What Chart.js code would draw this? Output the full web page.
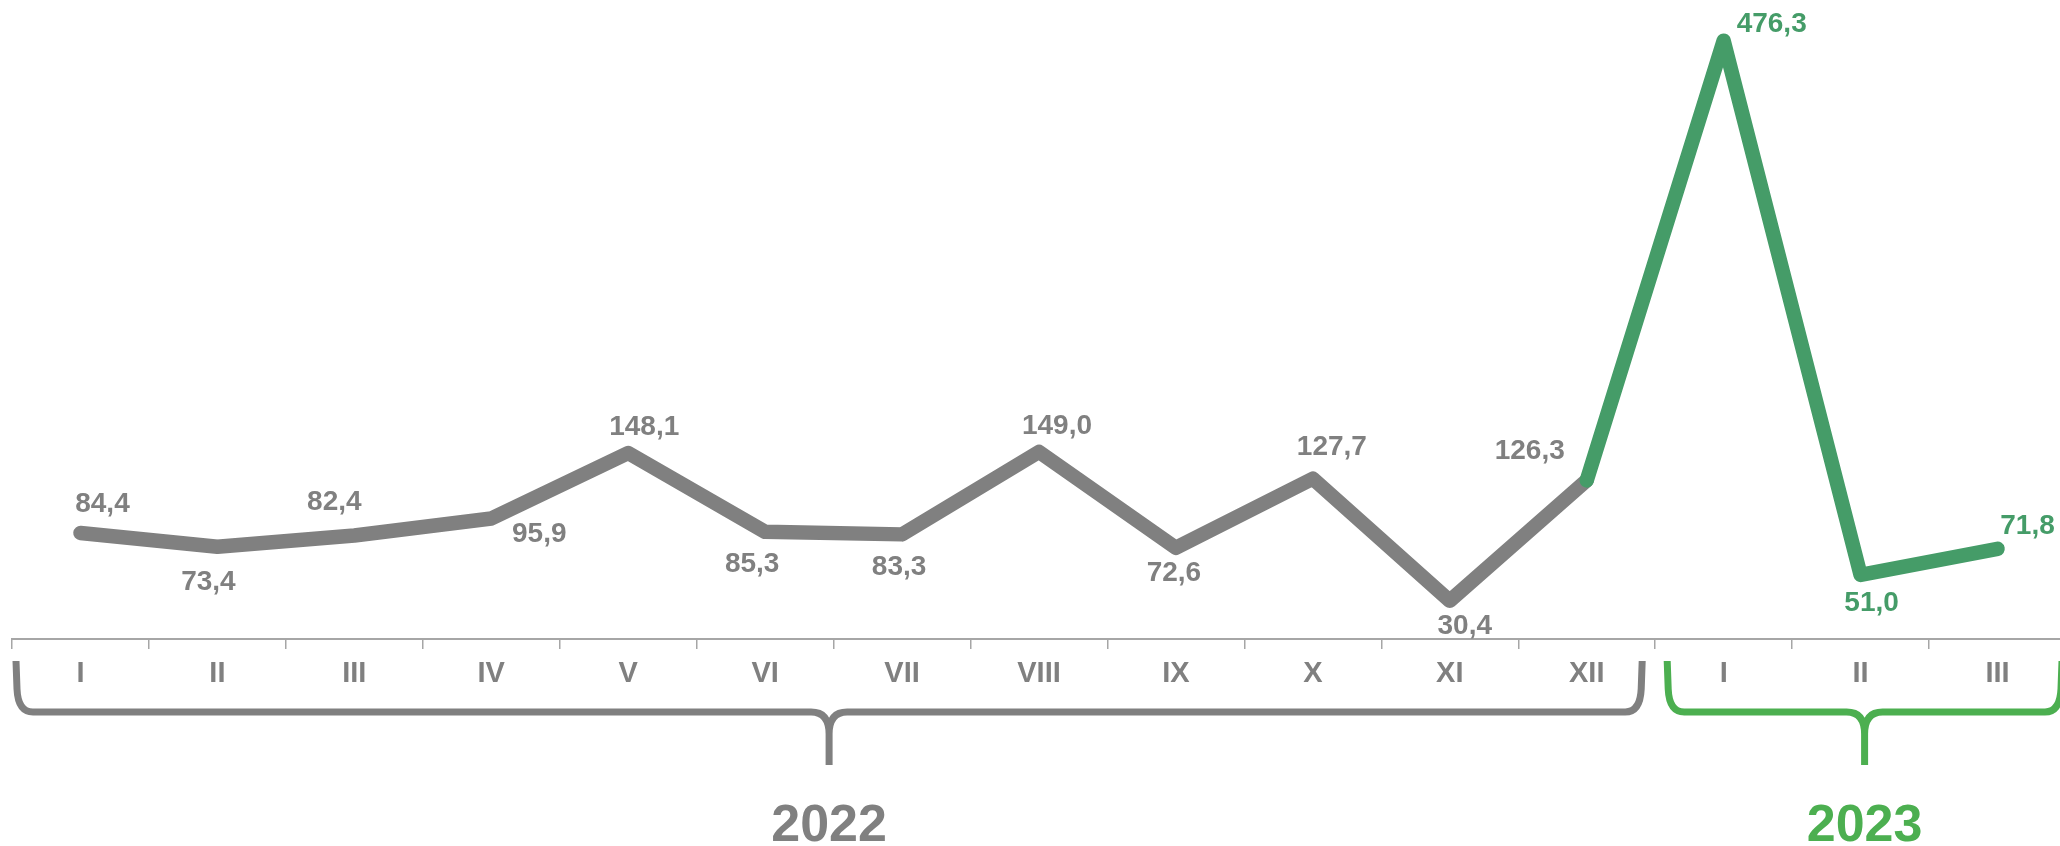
<!DOCTYPE html>
<html>
<head>
<meta charset="utf-8">
<script src="https://cdn.jsdelivr.net/npm/chart.js@4"></script>
<style>
  html, body { margin: 0; padding: 0; background: #ffffff; overflow: hidden; }
  #wrap { width: 2066px; height: 846px; }
</style>
</head>
<body>
<div id="wrap"><canvas id="c" width="2066" height="846"></canvas></div>
<script>
// ---- data ----
const monthLabels = ['I','II','III','IV','V','VI','VII','VIII','IX','X','XI','XII','I','II','III'];
const values2022 = [84.4, 73.4, 82.4, 95.9, 148.1, 85.3, 83.3, 149.0, 72.6, 127.7, 30.4, 126.3];
const values2023 = [476.3, 51.0, 71.8];
const yearNames = ['2022', '2023'];
const yearMonthCounts = [values2022.length, values2023.length];

const allValues = values2022.concat(values2023);

// ---- styles ----
const GRAY = '#808080';
const LINE_GREEN = '#459c68';
const BRACKET_GREEN = '#4caf50';
const AXIS_GRAY = '#a6a6a6';
const FONT = '"Liberation Sans", Arial, "DejaVu Sans", sans-serif';

// label placement relative to point (dx, dy in px)
const labelOffsets = [
  [22,-29],[-9,35],[-20,-33],[48,16],[16,-26],[-13,32],[-3,33],[18,-26],
  [-2,25],[19,-31],[15,25],[-57,-29],[48,-16],[11,28],[30,-23]
];

const fmt = v => v.toFixed(1).replace('.', ',');

const pointLabelsPlugin = {
  id: 'pointLabels',
  afterDatasetsDraw(chart) {
    const ctx = chart.ctx;
    const meta = chart.getDatasetMeta(0);
    ctx.save();
    ctx.font = 'bold 28px ' + FONT;
    ctx.textAlign = 'center';
    ctx.textBaseline = 'middle';
    meta.data.forEach((pt, i) => {
      const off = labelOffsets[i] || [0, -30];
      ctx.fillStyle = i >= values2022.length ? LINE_GREEN : GRAY;
      ctx.fillText(fmt(allValues[i]), pt.x + off[0], pt.y + off[1]);
    });
    ctx.restore();
  }
};

const bracketPlugin = {
  id: 'yearBrackets',
  afterDraw(chart) {
    const ctx = chart.ctx;
    const xs = chart.scales.x;
    const step = xs.getPixelForValue(1) - xs.getPixelForValue(0);
    const boundary = i => xs.getPixelForValue(0) - step / 2 + step * i;
    const groups = [
      { from: 0, to: yearMonthCounts[0], color: GRAY, name: yearNames[0], inL: 4, inR: 13 },
      { from: yearMonthCounts[0], to: yearMonthCounts[0] + yearMonthCounts[1], color: BRACKET_GREEN, name: yearNames[1], inL: 12, inR: 4 }
    ];
    const top = 661, yH = 712, tip = 765, r = 15, c = 18;
    groups.forEach(g => {
      const L = boundary(g.from) + g.inL;
      const R = boundary(g.to) - g.inR;
      const cx = (L + R) / 2;
      ctx.save();
      ctx.strokeStyle = g.color;
      ctx.lineWidth = 7;
      ctx.lineCap = 'butt';
      ctx.lineJoin = 'round';
      ctx.beginPath();
      ctx.moveTo(L, top);
      ctx.lineTo(L + 1, yH - r - 8);
      ctx.quadraticCurveTo(L + 2, yH, L + r + 2, yH);
      ctx.lineTo(cx - c, yH);
      ctx.quadraticCurveTo(cx, yH, cx, yH + 22);
      ctx.lineTo(cx, tip);
      ctx.moveTo(cx, yH + 22);
      ctx.quadraticCurveTo(cx, yH, cx + c, yH);
      ctx.lineTo(R - r - 2, yH);
      ctx.quadraticCurveTo(R - 2, yH, R - 1, yH - r - 8);
      ctx.lineTo(R, top);
      ctx.stroke();
      ctx.fillStyle = g.color;
      ctx.font = 'bold 52px ' + FONT;
      ctx.textAlign = 'center';
      ctx.textBaseline = 'middle';
      ctx.fillText(g.name, cx, 827);
      ctx.restore();
    });
  }
};

new Chart(document.getElementById('c'), {
  type: 'line',
  data: {
    labels: monthLabels,
    datasets: [{
      data: allValues,
      borderWidth: 14.5,
      borderColor: GRAY,
      borderCapStyle: 'round',
      borderJoinStyle: 'round',
      pointRadius: 0,
      pointHoverRadius: 0,
      tension: 0,
      fill: false,
      segment: {
        borderColor: ctx => ctx.p0DataIndex >= values2022.length - 1 ? LINE_GREEN : GRAY
      }
    }]
  },
  options: {
    responsive: false,
    devicePixelRatio: 1,
    animation: false,
    events: [],
    layout: { padding: { left: 12, right: 0, top: 11, bottom: 0 } },
    plugins: { legend: { display: false }, tooltip: { enabled: false } },
    scales: {
      x: {
        type: 'category',
        offset: true,
        grid: {
          display: true,
          offset: true,
          drawOnChartArea: false,
          drawTicks: true,
          tickLength: 10,
          color: AXIS_GRAY,
          lineWidth: 1.5
        },
        border: { display: true, color: AXIS_GRAY, width: 2 },
        ticks: {
          color: GRAY,
          font: { family: FONT, size: 29, weight: 'bold' },
          padding: 8,
          maxRotation: 0,
          autoSkip: false
        },
        afterFit: s => { s.height = 207; }
      },
      y: {
        display: false,
        min: 0,
        max: 500
      }
    }
  },
  plugins: [pointLabelsPlugin, bracketPlugin]
});
</script>
</body>
</html>
